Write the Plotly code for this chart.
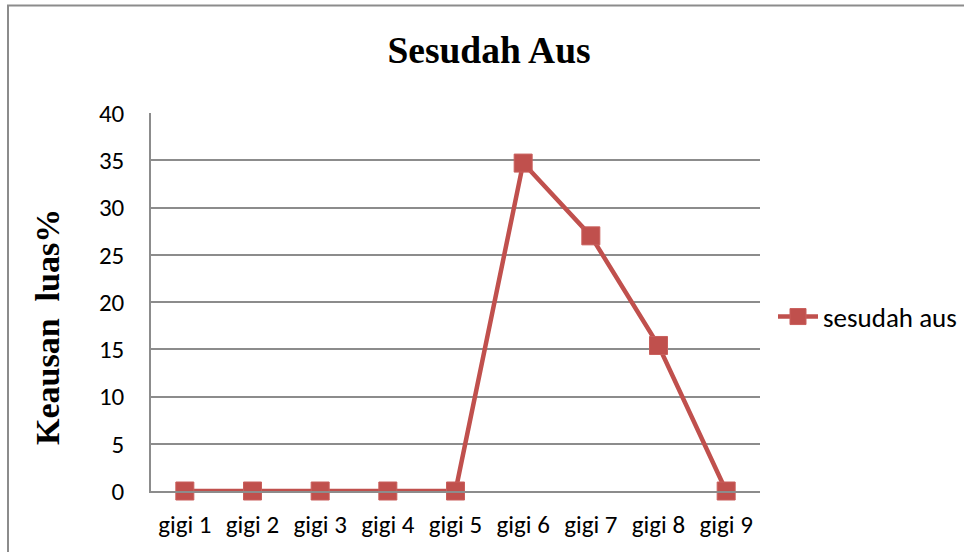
import plotly.graph_objects as go

# Wear data per tooth
categories = ["gigi 1", "gigi 2", "gigi 3", "gigi 4", "gigi 5", "gigi 6", "gigi 7", "gigi 8", "gigi 9"]
sesudah_aus = [0, 0, 0, 0, 0, 34.7, 27.0, 15.4, 0]
y_ticks = [0, 5, 10, 15, 20, 25, 30, 35, 40]

W, H = 964, 552
L, R, T, B = 151, 204, 113, 61
pw, ph = W - L - R, H - T - B

def px_x(p):
    return (p - L) / pw

def px_y(p):
    return (H - B - p) / ph

RED = "#c0504d"
GRID = "#8c8c8c"
SERIF = "Liberation Serif, Times New Roman, serif"
SANS = "Carlito, Calibri, Liberation Sans Narrow, sans-serif"
tick_font = dict(family=SANS, size=25, color="#000000")

fig = go.Figure()
fig.add_trace(go.Scatter(
    x=categories, y=sesudah_aus, mode="lines+markers", name="sesudah aus",
    line=dict(color=RED, width=4.5), cliponaxis=False,
    marker=dict(symbol="square", size=18, color=RED, line=dict(color="#c95f5c", width=1)),
))

fig.update_layout(
    width=W, height=H,
    margin=dict(l=L, r=R, t=T, b=B, pad=0, autoexpand=False),
    paper_bgcolor="white", plot_bgcolor="white",
    title=dict(text="<b>Sesudah Aus</b>", x=px_x(489), xref="paper", xanchor="center",
               y=1 - 50 / H, yref="container", yanchor="middle",
               font=dict(family=SERIF, size=37.5, color="#000000")),
    showlegend=True,
    legend=dict(x=px_x(773), y=px_y(317), xanchor="left", yanchor="middle",
                font=dict(family=SANS, size=27, color="#000000"),
                bgcolor="rgba(0,0,0,0)", itemwidth=40),
    xaxis=dict(type="category", showgrid=False, showline=True, linecolor=GRID, linewidth=1.5,
               ticks="", tickfont=tick_font, ticklabelstandoff=10, zeroline=False,
               range=[-0.5, len(categories) - 0.5]),
    yaxis=dict(range=[0, 40], tickvals=y_ticks, showgrid=True, gridcolor=GRID, gridwidth=1.5,
               showline=True, linecolor=GRID, linewidth=1.5, zeroline=False, ticks="",
               tickfont=tick_font, ticklabelstandoff=20),
    annotations=[dict(text="<b>Keausan\u00a0 luas%</b>", textangle=-90, showarrow=False,
                      xref="paper", yref="paper", x=px_x(47), y=px_y(327),
                      xanchor="center", yanchor="middle",
                      font=dict(family=SERIF, size=34, color="#000000"))],
    shapes=[dict(type="rect", xref="paper", yref="paper",
                 x0=px_x(8), x1=px_x(975), y0=px_y(565), y1=px_y(5.5),
                 line=dict(color="#8c8c8c", width=2), fillcolor="rgba(0,0,0,0)", layer="below")],
)

fig.write_html("out.html")
